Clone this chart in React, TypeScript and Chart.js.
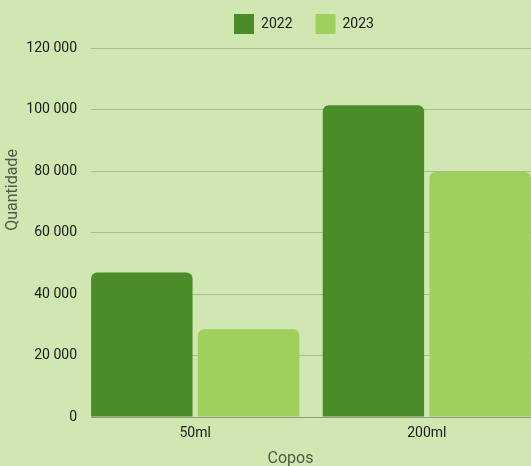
import React, { useEffect, useRef } from "react";
import { Chart, registerables } from "chart.js";

Chart.register(...registerables);

const categories = ["50ml", "200ml"];
const seriesNames = ["2022", "2023"];
const values2022 = [47000, 101400];
const values2023 = [28500, 79700];
const yTicks = [0, 20000, 40000, 60000, 80000, 100000, 120000];
const xTitle = "Copos";
const yTitle = "Quantidade";

const FONT = "Roboto, 'Noto Sans', sans-serif";

const fmt = (v: number) => String(v).replace(/\B(?=(\d{3})+(?!\d))/g, " ");

const axisTitles = {
  id: "axisTitles",
  afterLayout(chart: any) {
    const lg = chart.legend;
    if (lg) {
      lg.left = 77;
      lg.right = 531;
      lg.top -= 4;
      lg.bottom -= 4;
    }
  },
  afterDraw(chart: any) {
    const { ctx } = chart;
    ctx.save();
    ctx.fillStyle = "#505a4a";
    ctx.font = `16px ${FONT}`;
    ctx.textAlign = "center";
    ctx.textBaseline = "middle";
    ctx.fillText(xTitle, 290.5, 459);
    ctx.translate(13, 190);
    ctx.rotate(-Math.PI / 2);
    ctx.fillText(yTitle, 0, 0);
    ctx.restore();
  },
};

export default function App() {
  const ref = useRef<HTMLCanvasElement | null>(null);
  useEffect(() => {
    document.body.style.margin = "0";
    const c = new Chart(ref.current!, {
      type: "bar",
      data: {
        datasets: [
          {
            label: seriesNames[0],
            data: values2022.map((v, i) => ({ x: i, y: v })),
            backgroundColor: "#4a8c27",
            borderRadius: { topLeft: 6, topRight: 6, bottomLeft: 0, bottomRight: 0 },
            borderSkipped: false,
          },
          {
            label: seriesNames[1],
            data: values2023.map((v, i) => ({ x: i, y: v })),
            backgroundColor: "#9fcf5c",
            borderRadius: { topLeft: 6, topRight: 6, bottomLeft: 0, bottomRight: 0 },
            borderSkipped: false,
          },
        ],
      },
      options: {
        animation: false,
        responsive: false,
        maintainAspectRatio: false,
        layout: { padding: { top: -5, left: 0, right: 0, bottom: 0 } },
        datasets: { bar: { categoryPercentage: 0.922, barPercentage: 0.95 } },
        plugins: {
          legend: {
            position: "top",
            align: "center",
            labels: {
              boxWidth: 20,
              boxHeight: 20,
              padding: 23,
              color: "#1a1a1a",
              font: { family: FONT, size: 14 },
            },
          },
          tooltip: { enabled: false },
        },
        scales: {
          x: {
            type: "linear",
            offset: false,
            min: -0.45,
            max: 1.45,
            afterBuildTicks: (s: any) => {
              s.ticks = categories.map((_, i) => ({ value: i }));
            },
            afterFit: (s: any) => {
              s.height = 49;
            },
            ticks: {
              autoSkip: false,
              callback: (v: any) => categories[v] ?? "",
              color: "#1a1a1a",
              font: { family: FONT, size: 14 },
              padding: 8,
              maxRotation: 0,
            },
            grid: { display: false, drawTicks: false, offset: false },
            border: { display: true, color: "#8f9c84", width: 1 },
          },
          y: {
            min: 0,
            max: 120000,
            afterBuildTicks: (s: any) => {
              s.ticks = yTicks.map((v) => ({ value: v }));
            },
            afterFit: (s: any) => {
              s.width = 91;
            },
            ticks: {
              callback: (v: any) => fmt(Number(v)),
              color: "#1a1a1a",
              font: { family: FONT, size: 14 },
              padding: 14,
            },
            grid: { color: "#a6bf8d", drawTicks: false, lineWidth: 1 },
            border: { display: false },
          },
        },
      },
      plugins: [axisTitles],
    } as any);
    return () => c.destroy();
  }, []);
  return (
    <div style={{ width: 531, height: 466, background: "#d1e7b1", position: "relative" }}>
      <canvas ref={ref} width={531} height={466} style={{ display: "block" }} />
    </div>
  );
}
